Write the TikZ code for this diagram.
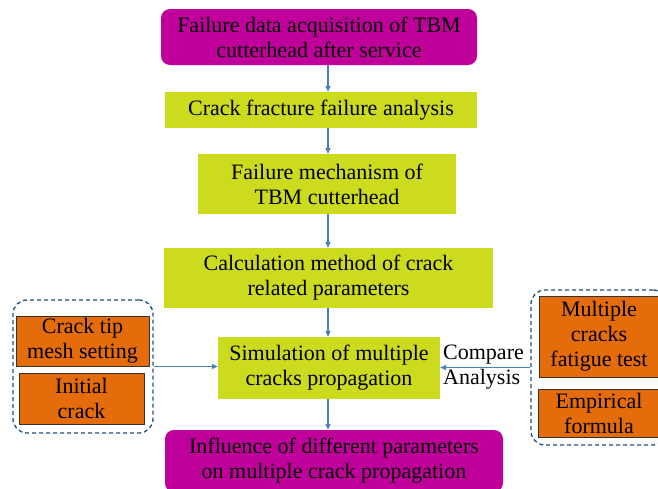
\documentclass[tikz,border=0pt]{standalone}
\usepackage{fontspec}
\setmainfont{Liberation Serif}
\newfontfamily\tnr{Liberation Serif}
\usetikzlibrary{arrows.meta}
\definecolor{mag}{HTML}{C0009A}
\definecolor{lime}{HTML}{CCDB1E}
\definecolor{orng}{HTML}{E46C0A}
\definecolor{arr}{HTML}{4A7EBB}
\definecolor{dash}{HTML}{1F4E79}
\tikzset{
  base/.style={inner sep=0pt, align=center, font=\tnr\fontsize{22}{25}\selectfont},
  magbox/.style={base, fill=mag, rounded corners=9pt},
  limebox/.style={base, fill=lime},
  orbox/.style={base, fill=orng, draw=black!80, line width=0.8pt},
  grp/.style={draw=dash, dashed, line width=1.3pt, rounded corners=14pt, dash pattern=on 4pt off 3pt},
  conn/.style={draw=arr, line width=1.3pt, -{Triangle[length=6pt,width=5pt]}},
}
\begin{document}
\begin{tikzpicture}[x=1pt,y=-1pt]
\clip (0,0) rectangle (658,488);
\useasboundingbox (0,0) rectangle (658,488);
\coordinate (ax) at (328,0);
\node[magbox, minimum width=316pt, minimum height=56pt] (b1) at (319,37) {Failure data acquisition of TBM\\cutterhead after service};
\node[limebox, minimum width=312pt, minimum height=36pt] (b2) at (321,110) {Crack fracture failure analysis};
\node[limebox, minimum width=258pt, minimum height=60pt] (b3) at (327,184) {Failure mechanism of\\TBM cutterhead};
\node[limebox, minimum width=329pt, minimum height=60pt] (b4) at (328.5,278) {Calculation method of crack\\related parameters};
\node[limebox, minimum width=222pt, minimum height=62pt] (b5) at (329,368) {Simulation of multiple\\cracks propagation};
\node[magbox, minimum width=338pt, minimum height=62pt] (b6) at (334,461) {Influence of different parameters\\on multiple crack propagation};

\node[grp, minimum width=140pt, minimum height=133pt] (gl) at (83,366.5) {};
\node[orbox, minimum width=133pt, minimum height=50pt] (la) at (82.5,341) {Crack tip\\mesh setting};
\node[orbox, minimum width=125pt, minimum height=51pt] (lb) at (81.5,398.5) {Initial\\crack};

\node[grp, minimum width=136pt, minimum height=155pt] (gr) at (599,367.5) {};
\node[orbox, minimum width=120pt, minimum height=81pt] (ra) at (599,336.5) {Multiple\\cracks\\fatigue test};
\node[orbox, minimum width=122pt, minimum height=48pt] (rb) at (599,413) {Empirical\\formula};

\draw[conn] (b1.south -| ax) -- (b2.north -| ax);
\draw[conn] (b2.south -| ax) -- (b3.north -| ax);
\draw[conn] (b3.south -| ax) -- (b4.north -| ax);
\draw[conn] (b4.south -| ax) -- (b5.north -| ax);
\draw[conn] (b5.south -| ax) -- (b6.north -| ax);
\draw[conn] (gl.east) -- (gl.east -| b5.west);
\draw[conn] (gr.west) -- (gr.west -| b5.east);
\node[base, anchor=south west] (cmp) at (443,364) {Compare};
\node[base, anchor=north west] (ana) at (443,369) {Analysis};
\end{tikzpicture}
\end{document}
